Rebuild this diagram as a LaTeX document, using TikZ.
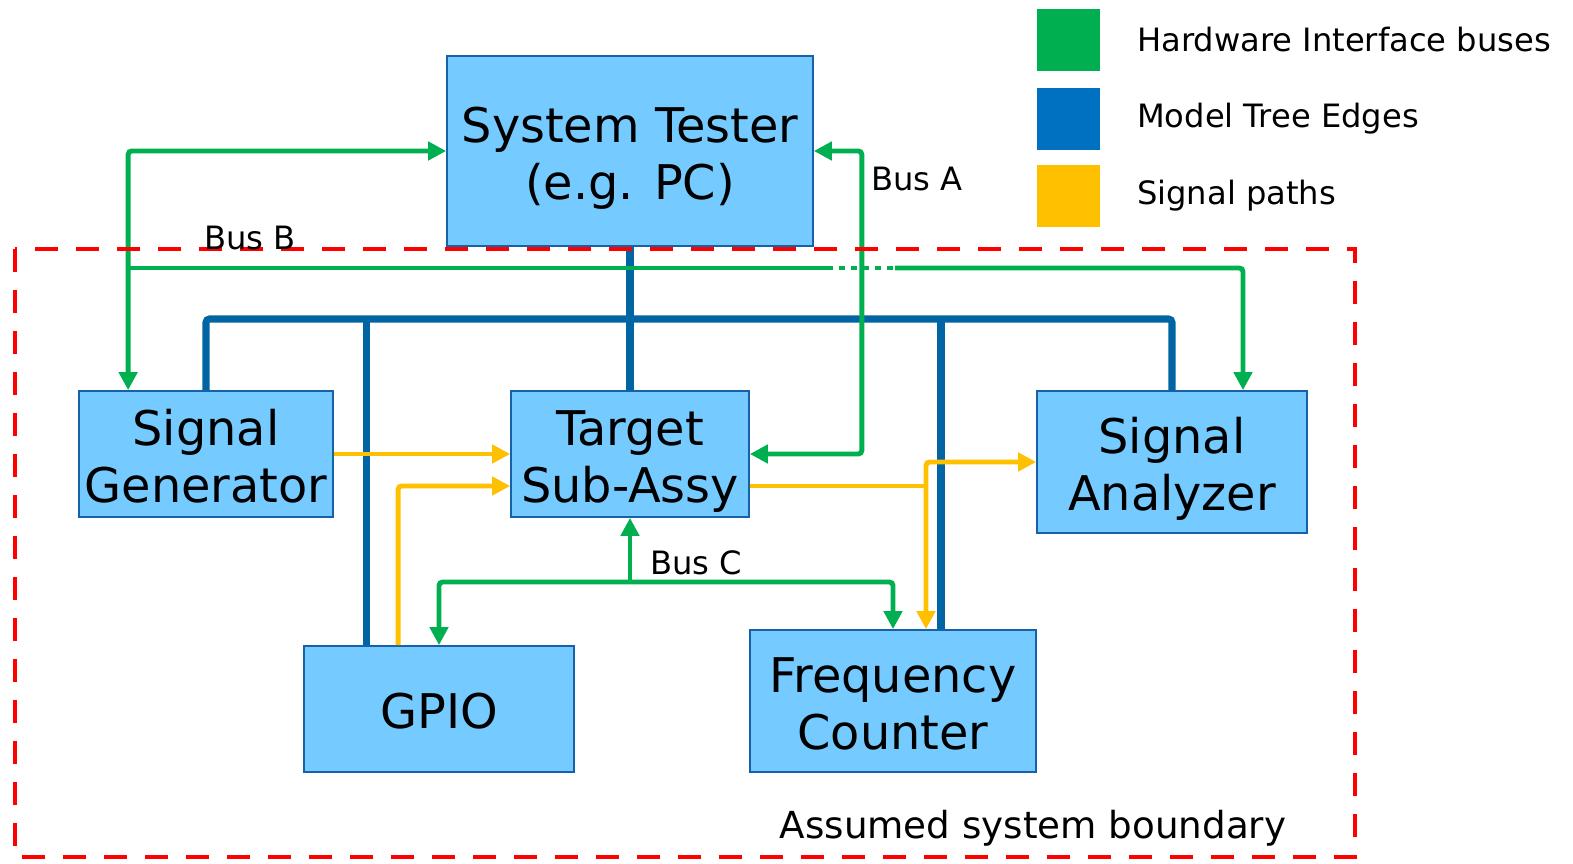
\documentclass[tikz,border=0pt]{standalone}
\usepackage{fontspec}
\setmainfont{DejaVu Sans}
\usetikzlibrary{positioning, arrows.meta}
\definecolor{boxblue}{RGB}{117,203,255}
\definecolor{boxline}{RGB}{22,98,168}
\definecolor{treeblue}{RGB}{0,101,162}
\definecolor{busgreen}{RGB}{0,176,80}
\definecolor{sigyellow}{RGB}{255,192,0}
\definecolor{legblue}{RGB}{0,112,192}
% same line box for the text of every block
\newcommand\blocktext[1]{\rule{0pt}{29pt}#1\rule[-6.3pt]{0pt}{6.3pt}}
\tikzset{%
  x=0.02cm, y=-0.02cm, % one unit is one pixel of the original picture
  block/.style={draw=boxline, line width=1pt, fill=boxblue, inner sep=0pt,
    align=center, font=\fontsize{27.2}{32.5}\selectfont}, % the blue boxes
  tree/.style={draw=treeblue, line width=4pt, rounded corners=2pt},
  bus/.style={draw=busgreen, line width=2.8pt, rounded corners=2pt},
  sig/.style={draw=sigyellow, line width=2.8pt, rounded corners=2pt},
  label/.style={font=\fontsize{18.3}{22}\selectfont, inner sep=0pt},
  legend/.style={minimum width=1.26cm, minimum height=1.24cm, inner sep=0pt},
  boundary/.style={draw=red, line width=2.8pt, dash pattern=on 0.46cm off 0.36cm}
}

\begin{document}
\begin{tikzpicture}[>={Triangle[length=0.36cm, width=0.36cm]}]
    \useasboundingbox (0,0) rectangle (1573,864);

    \node[block, minimum width=7.32cm, minimum height=3.8cm] (tester) at (630,151) {\blocktext{System Tester\\(e.g. PC)}};
    \node[block, minimum width=5.08cm, minimum height=2.52cm] (siggen) at (206,454) {\blocktext{Signal\\Generator}};
    \node[block, minimum width=4.76cm, minimum height=2.52cm] (target) at (630,454) {\blocktext{Target\\Sub-Assy}};
    \node[block, minimum width=5.4cm, minimum height=2.84cm] (analyzer) at (1172,462) {\blocktext{Signal\\Analyzer}};
    \node[block, minimum width=5.4cm, minimum height=2.52cm] (gpio) at (439,709) {\blocktext{GPIO}};
    \node[block, minimum width=5.72cm, minimum height=2.84cm] (counter) at (893,701) {\blocktext{Frequency\\Counter}};

    % legend
    \node[legend, fill=busgreen] (lbus) at (1068,40) {};
    \node[legend, fill=legblue] (ltree) at (1068,119) {};
    \node[legend, fill=sigyellow] (lsig) at (1068,196) {};
    \node[label, right=0.74cm of lbus] (tbus) {Hardware Interface buses};
    \node[label, right=0.74cm of ltree] (ttree) {Model Tree Edges};
    \node[label, right=0.74cm of lsig] (tsig) {Signal paths};

    % model tree edges
    \coordinate (hub) at (630,319);
    \coordinate (gpiotap) at ([xshift=1.26cm]gpio.north west);
    \coordinate (countertap) at ([xshift=0.96cm]counter.north);
    \draw[tree] (tester.south) -- (target.north);
    \draw[tree] (siggen.north) |- (hub) -| (analyzer.north);
    \draw[tree] (gpiotap) -- (gpiotap |- hub);
    \draw[tree] (countertap) -- (countertap |- hub);

    % signal paths
    \coordinate (gpiosig) at ([xshift=1.9cm]gpio.north west);
    \coordinate (tgtin) at ([yshift=-0.64cm]target.west);
    \coordinate (tgtout) at ([yshift=-0.64cm]target.east);
    \coordinate (countersig) at ([xshift=0.66cm]counter.north);
    \draw[sig, ->] (siggen.east) -- (target.west);
    \draw[sig, ->] (gpiosig) |- (tgtin);
    \draw[sig] (tgtout) -- (tgtout -| countersig);
    \draw[sig, <->] (analyzer.west) -| (countersig);

    % bus A
    \draw[bus, <->] (tester.east) -- ++(0.96cm,0) |- (target.east);
    % bus B
    \coordinate (sgtap) at ([xshift=1cm]siggen.north west);
    \coordinate (antap) at ([xshift=1.42cm]analyzer.north);
    \coordinate (busb) at (129,268);
    \coordinate (dotl) at (833,268);
    \coordinate (dotr) at (895,268);
    \draw[bus, <->] (tester.west) -| (sgtap);
    \draw[bus] (busb) -- (dotl);
    \draw[bus, rounded corners=0pt, dash pattern=on 0.12cm off 0.12cm, dash phase=-0.12cm] (dotl) -- (dotr);
    \draw[bus, ->] (dotr) -| (antap);
    % bus C
    \coordinate (busc) at (630,582);
    \draw[bus, ->] (busc) -- (target.south);
    \draw[bus, <->] (gpio.north) |- (busc) -| (counter.north);

    % system boundary
    \draw[boundary] (15,249) rectangle (1355,857);

    \node[label] (busalabel) at (917,179) {Bus A};
    \node[label] (busblabel) at (250,238) {Bus B};
    \node[label] (busclabel) at (696,563) {Bus C};
    \node[label, font=\fontsize{21.2}{25}\selectfont] (boundlabel) at (1033,828) {Assumed system boundary};
\end{tikzpicture}
\end{document}
